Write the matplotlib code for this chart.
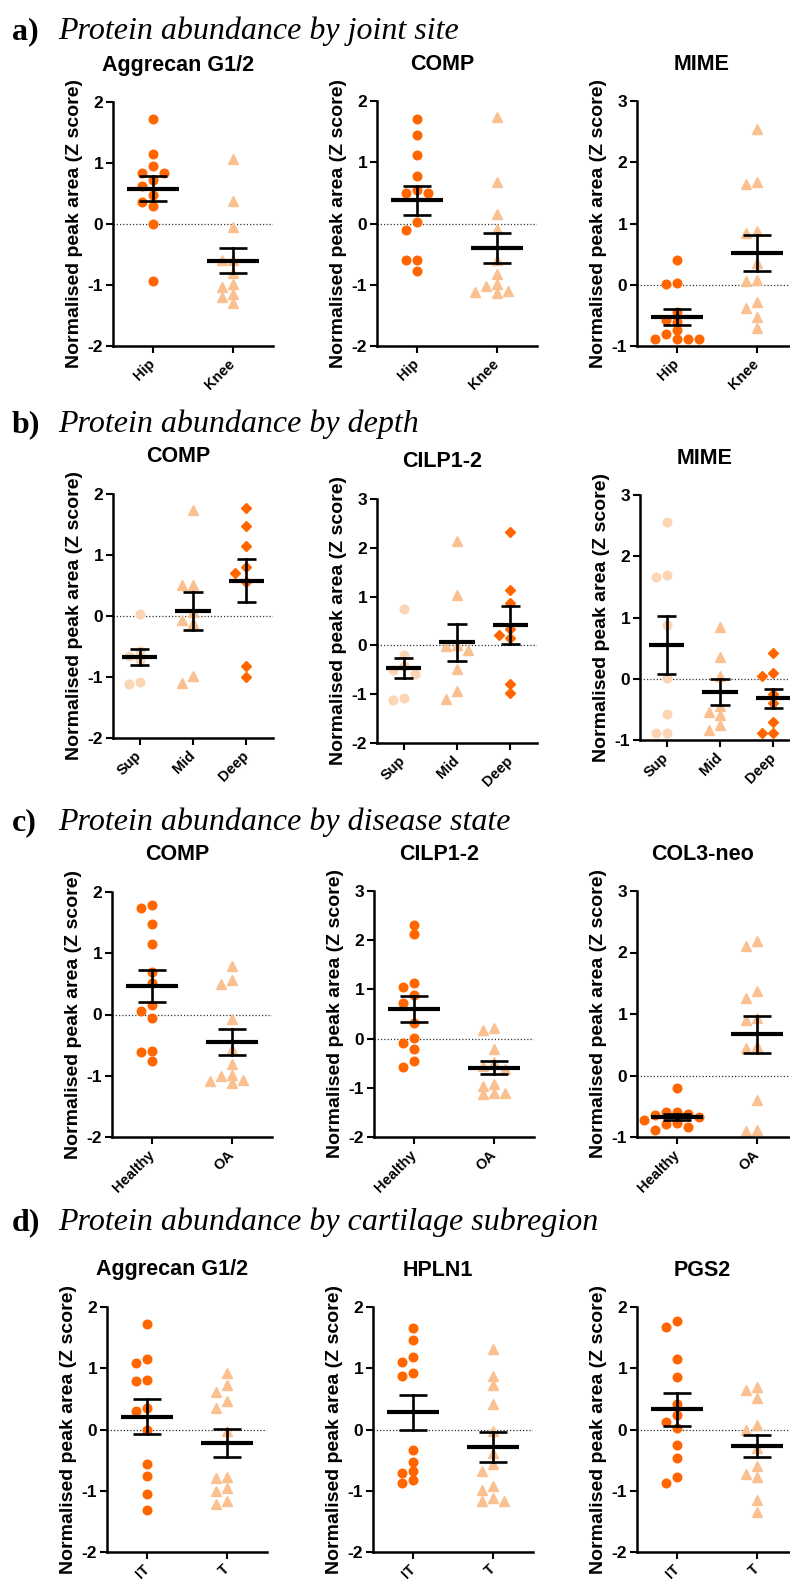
import matplotlib.pyplot as plt
import numpy as np

plt.rcParams['font.family'] = ['Liberation Sans', 'DejaVu Sans']

DARK = '#FF6600'
LIGHT = '#FAC090'
PALE = '#FCD5B5'

# ---- a) joint site ----
joint_groups = ['Hip', 'Knee']
a_agg_hip = [1.72, 1.14, 0.95, 0.83, 0.83, 0.72, 0.63, 0.48, 0.36, 0.30, 0.00, -0.94]
a_agg_knee = [1.07, 0.37, -0.05, -0.59, -0.59, -0.80, -0.98, -1.04, -1.14, -1.19, -1.30]
a_agg_mean = [0.58, -0.60]
a_agg_sem = [0.20, 0.21]
a_comp_hip = [1.71, 1.45, 1.12, 0.78, 0.55, 0.50, 0.49, 0.02, -0.11, -0.59, -0.60, -0.78]
a_comp_knee = [1.74, 0.67, 0.16, -0.09, -0.60, -0.83, -0.99, -1.02, -1.10, -1.12, -1.14]
a_comp_mean = [0.38, -0.40]
a_comp_sem = [0.24, 0.25]
a_mime_hip = [0.40, 0.03, 0.02, -0.44, -0.57, -0.60, -0.74, -0.81, -0.89, -0.89, -0.89, -0.89]
a_mime_knee = [2.55, 1.67, 1.64, 0.87, 0.85, 0.35, 0.08, 0.06, -0.28, -0.38, -0.53, -0.71]
a_mime_mean = [-0.52, 0.52]
a_mime_sem = [0.13, 0.29]

# ---- b) depth ----
depth_groups = ['Sup', 'Mid', 'Deep']
b_comp_sup = [0.03, -0.58, -0.65, -0.72, -1.08, -1.12]
b_comp_mid = [1.73, 0.51, 0.50, 0.07, -0.06, -0.12, -0.99, -1.10]
b_comp_deep = [1.77, 1.48, 1.15, 0.80, 0.70, 0.55, -0.82, -1.00]
b_comp_mean = [-0.67, 0.08, 0.58]
b_comp_sem = [0.13, 0.31, 0.35]
b_cilp_sup = [0.75, -0.20, -0.42, -0.50, -0.58, -1.07, -1.11]
b_cilp_mid = [2.13, 1.04, 0.00, -0.02, -0.10, -0.48, -0.94, -1.09]
b_cilp_deep = [2.32, 1.14, 0.87, 0.33, 0.21, 0.16, -0.80, -0.97]
b_cilp_mean = [-0.46, 0.06, 0.41]
b_cilp_sem = [0.21, 0.37, 0.39]
b_mime_sup = [2.56, 1.69, 1.66, 0.87, 0.02, -0.57, -0.89, -0.89]
b_mime_mid = [0.84, 0.36, 0.05, -0.45, -0.54, -0.59, -0.75, -0.84]
b_mime_deep = [0.42, 0.10, 0.05, -0.25, -0.39, -0.71, -0.89, -0.89]
b_mime_mean = [0.55, -0.22, -0.32]
b_mime_sem = [0.47, 0.21, 0.16]

# ---- c) disease state ----
disease_groups = ['Healthy', 'OA']
c_comp_healthy = [1.78, 1.74, 1.48, 1.15, 0.70, 0.51, 0.16, 0.05, -0.06, -0.59, -0.62, -0.76]
c_comp_oa = [0.80, 0.57, 0.50, -0.08, -0.57, -0.80, -0.98, -1.00, -1.07, -1.09, -1.12]
c_comp_mean = [0.47, -0.45]
c_comp_sem = [0.26, 0.21]
c_cilp_healthy = [2.31, 2.13, 1.14, 1.04, 0.88, 0.73, 0.31, 0.01, -0.09, -0.21, -0.46, -0.57]
c_cilp_oa = [0.21, 0.17, -0.21, -0.48, -0.55, -0.62, -0.92, -0.96, -1.10, -1.10, -1.13]
c_cilp_mean = [0.60, -0.59]
c_cilp_sem = [0.27, 0.13]
c_col3_healthy = [-0.21, -0.60, -0.60, -0.62, -0.64, -0.68, -0.72, -0.77, -0.79, -0.84, -0.88]
c_col3_oa = [2.18, 2.11, 1.38, 1.26, 0.94, 0.90, 0.48, 0.45, -0.40, -0.89, -0.91]
c_col3_mean = [-0.68, 0.67]
c_col3_sem = [0.05, 0.30]

# ---- d) cartilage subregion ----
region_groups = ['IT', 'T']
d_agg_it = [1.72, 1.15, 1.09, 0.81, 0.80, 0.35, 0.30, 0.00, -0.56, -0.76, -1.05, -1.32]
d_agg_t = [0.93, 0.73, 0.62, 0.46, 0.35, -0.03, -0.77, -0.79, -0.96, -1.01, -1.16, -1.21]
d_agg_mean = [0.21, -0.22]
d_agg_sem = [0.285, 0.23]
d_hpln_it = [1.66, 1.46, 1.19, 1.11, 0.93, 0.88, -0.33, -0.53, -0.68, -0.71, -0.83, -0.87]
d_hpln_t = [1.31, 0.88, 0.72, 0.42, -0.03, -0.38, -0.57, -0.67, -0.92, -0.98, -1.12, -1.16, -1.16]
d_hpln_mean = [0.28, -0.29]
d_hpln_sem = [0.29, 0.245]
d_pgs_it = [1.77, 1.68, 1.15, 0.86, 0.41, 0.24, 0.12, 0.02, -0.26, -0.46, -0.78, -0.87]
d_pgs_t = [0.69, 0.65, 0.51, 0.08, 0.00, -0.30, -0.59, -0.72, -0.78, -1.15, -1.34]
d_pgs_mean = [0.33, -0.27]
d_pgs_sem = [0.265, 0.185]

section_letters = ['a)', 'b)', 'c)', 'd)']
section_titles = ['Protein abundance by joint site', 'Protein abundance by depth',
                  'Protein abundance by disease state', 'Protein abundance by cartilage subregion']

two_styles = [('o', DARK, 6.2), ('^', LIGHT, 6.8)]
three_styles = [('o', PALE, 6.2), ('^', LIGHT, 6.8), ('D', DARK, 5.2)]

# (title, groups, series, mean, sem, ylim, styles, axes box in px: left, top, bottom)
panels = [
    ('Aggrecan G1/2', joint_groups, [a_agg_hip, a_agg_knee], a_agg_mean, a_agg_sem, (-2, 2), two_styles, (113, 102, 346)),
    ('COMP', joint_groups, [a_comp_hip, a_comp_knee], a_comp_mean, a_comp_sem, (-2, 2), two_styles, (377, 101, 346)),
    ('MIME', joint_groups, [a_mime_hip, a_mime_knee], a_mime_mean, a_mime_sem, (-1, 3), two_styles, (637, 101, 346)),
    ('COMP', depth_groups, [b_comp_sup, b_comp_mid, b_comp_deep], b_comp_mean, b_comp_sem, (-2, 2), three_styles, (113, 494, 738)),
    ('CILP1-2', depth_groups, [b_cilp_sup, b_cilp_mid, b_cilp_deep], b_cilp_mean, b_cilp_sem, (-2, 3), three_styles, (377, 499, 743)),
    ('MIME', depth_groups, [b_mime_sup, b_mime_mid, b_mime_deep], b_mime_mean, b_mime_sem, (-1, 3), three_styles, (640, 495, 740)),
    ('COMP', disease_groups, [c_comp_healthy, c_comp_oa], c_comp_mean, c_comp_sem, (-2, 2), two_styles, (112, 892, 1137)),
    ('CILP1-2', disease_groups, [c_cilp_healthy, c_cilp_oa], c_cilp_mean, c_cilp_sem, (-2, 3), two_styles, (374, 891, 1137)),
    ('COL3-neo', disease_groups, [c_col3_healthy, c_col3_oa], c_col3_mean, c_col3_sem, (-1, 3), two_styles, (637, 891, 1137)),
    ('Aggrecan G1/2', region_groups, [d_agg_it, d_agg_t], d_agg_mean, d_agg_sem, (-2, 2), two_styles, (107, 1307, 1552)),
    ('HPLN1', region_groups, [d_hpln_it, d_hpln_t], d_hpln_mean, d_hpln_sem, (-2, 2), two_styles, (373, 1307, 1552)),
    ('PGS2', region_groups, [d_pgs_it, d_pgs_t], d_pgs_mean, d_pgs_sem, (-2, 2), two_styles, (637, 1307, 1552)),
]
header_baselines = [39, 432, 830, 1230]

W, H = 790, 1582
AX_W = 160


def swarm_offsets(vals, px_x, px_y, diam=8.0, step=11.0):
    # greedy column packing, like the prism scatter layout
    placed = []
    offs = []
    for v in vals:
        for k in [0, -1, 1, -2, 2, -3, 3]:
            dx = k * step
            if all((dx - p) ** 2 + ((v - pv) * px_y) ** 2 >= diam ** 2 for p, pv in placed):
                break
        placed.append((dx, v))
        offs.append(dx / px_x)
    return np.array(offs)


fig = plt.figure(figsize=(W / 100, H / 100), dpi=100)

for letter, text, base in zip(section_letters, section_titles, header_baselines):
    fig.text(12 / W, 1 - base / H, letter, fontfamily='Liberation Serif', fontweight='bold',
             fontsize=23, va='baseline', ha='left')
    fig.text(58 / W, 1 - base / H, text, fontfamily='Liberation Serif', style='italic',
             fontsize=23, va='baseline', ha='left')

for title, groups, series, means, sems, ylim, styles, (left, top, bottom) in panels:
    ax_h = bottom - top
    ax = fig.add_axes([left / W, 1 - bottom / H, AX_W / W, ax_h / H])
    n = len(groups)
    ax.set_xlim(-0.5, n - 0.5)
    ax.set_ylim(*ylim)
    px_x = AX_W / n
    px_y = ax_h / (ylim[1] - ylim[0])

    ax.axhline(0, color='#333333', lw=0.9, ls=(0, (1, 1.6)), zorder=1)

    for i, (vals, (marker, color, ms)) in enumerate(zip(series, styles)):
        vals = np.array(vals)
        xs = i + swarm_offsets(vals, px_x, px_y)
        ax.plot(xs, vals, ls='none', marker=marker, color=color, ms=ms, mec=color, zorder=2)

    for i, (m, s) in enumerate(zip(means, sems)):
        ax.plot([i - 0.33, i + 0.33], [m, m], color='black', lw=3.0, zorder=4, solid_capstyle='butt')
        ax.plot([i, i], [m - s, m + s], color='black', lw=1.9, zorder=4)
        for y in (m - s, m + s):
            ax.plot([i - 0.18, i + 0.18], [y, y], color='black', lw=1.9, zorder=4, solid_capstyle='butt')

    ax.set_xticks(range(n))
    ax.set_xticklabels(groups, rotation=45, ha='right', va='center', rotation_mode='anchor',
                       fontsize=10.5, fontweight='bold')
    ax.set_yticks(np.arange(ylim[0], ylim[1] + 1))
    ax.set_yticklabels([str(v) for v in range(ylim[0], ylim[1] + 1)], fontsize=12.5, fontweight='bold')
    ax.tick_params(direction='out', length=5, width=1.5, pad=2)
    ax.tick_params(axis='x', pad=6)
    for side in ('top', 'right'):
        ax.spines[side].set_visible(False)
    for side in ('left', 'bottom'):
        ax.spines[side].set_linewidth(1.8)

    ax.set_ylabel('Normalised peak area (Z score)', fontsize=14, fontweight='bold')
    ax.yaxis.set_label_coords(-30 / AX_W, 0.5)
    ax.text(65 / AX_W, 1 + 37 / ax_h, title, transform=ax.transAxes, ha='center', va='center',
            fontsize=15.5, fontweight='bold')

fig.savefig('out.png', dpi=100)
